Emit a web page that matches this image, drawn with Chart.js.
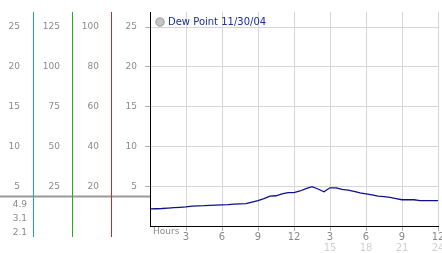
<!DOCTYPE html>
<html>
<head>
<meta charset="utf-8">
<script src="https://cdn.jsdelivr.net/npm/chart.js@4/dist/chart.umd.min.js"></script>
<style>
html,body{margin:0;padding:0;background:#fff;}
#c{display:block;}
</style>
</head>
<body>
<canvas id="c" width="442" height="253"></canvas>
<script>
// ---- data ----
const seriesLabel = 'Dew Point 11/30/04';
const hours = [0,0.5,1,1.5,2,2.5,3,3.5,4,4.5,5,5.5,6,6.5,7,7.5,8,8.5,9,9.5,10,10.5,11,11.5,12,12.5,13,13.5,14,14.5,15,15.5,16,16.5,17,17.5,18,18.5,19,19.5,20,20.5,21,21.5,22,22.5,23,23.5,24];
const dewPoint = [2.15,2.17,2.2,2.25,2.3,2.35,2.4,2.5,2.52,2.55,2.6,2.62,2.65,2.68,2.75,2.78,2.8,3.0,3.2,3.45,3.75,3.8,4.05,4.2,4.2,4.4,4.7,4.95,4.65,4.3,4.8,4.8,4.6,4.5,4.35,4.15,4.05,3.9,3.75,3.7,3.6,3.45,3.3,3.3,3.3,3.2,3.2,3.2,3.2];
const xTickValues = [3,6,9,12,15,18,21,24];
const xTickLabels = ['3','6','9','12','3','6','9','12'];
const x2TickValues = [15,18,21,24];
const x2TickLabels = ['15','18','21','24'];
const yTicksA = [5,10,15,20,25];
const yTicksB = [25,50,75,100,125];
const yTicksC = [20,40,60,80,100];
const yTicksD = [5,10,15,20,25];
const statLabels = ['4.9','3.1','2.1'];
const hoursLabel = 'Hours';

const FONT = "'DejaVu Sans', Verdana, sans-serif";
const GRAY = '#8a8a8a';

function setTicks(values){ return function(scale){ scale.ticks = values.map(v => ({value: v})); }; }
function fixW(w){ return function(scale){ scale.width = w; scale.paddingTop = 0; scale.paddingBottom = 0; }; }
function fixH(h){ return function(scale){ scale.height = h; scale.paddingLeft = 0; scale.paddingRight = 0; }; }
function labelFrom(values, labels){ return function(v){ const i = values.indexOf(v); return i < 0 ? '' : labels[i]; }; }

const decor = {
  id: 'decor',
  afterLayout(chart){
    const lg = chart.legend;
    if (lg) { lg.top += 13; lg.bottom += 13; lg.left += 3; lg.right += 3; }
  },
  afterDraw(chart){
    const ctx = chart.ctx;
    const ca = chart.chartArea;
    const sA = chart.scales.yA, sB = chart.scales.yB, sC = chart.scales.yC;
    ctx.save();
    // separator line in left panel
    const yS = chart.scales.y.getPixelForValue(3.7);
    ctx.strokeStyle = '#9a9a9a';
    ctx.lineWidth = 2;
    ctx.beginPath(); ctx.moveTo(0, yS); ctx.lineTo(ca.left, yS); ctx.stroke();
    // colored axis lines
    const cols = [[sA,'#1e9be6'],[sB,'#22aa22'],[sC,'#d02828']];
    ctx.lineWidth = 1;
    for (const [s,c] of cols){
      const x = Math.round(s.right) + 0.5;
      ctx.strokeStyle = c;
      ctx.beginPath(); ctx.moveTo(x, ca.top); ctx.lineTo(x, ca.bottom + 11); ctx.stroke();
    }
    // stats
    ctx.fillStyle = GRAY;
    ctx.font = '9px ' + FONT;
    ctx.textAlign = 'right';
    ctx.textBaseline = 'middle';
    statLabels.forEach((t,i) => ctx.fillText(t, 27, ca.bottom - 21 + i*14));
    // hours label
    ctx.textAlign = 'left';
    ctx.fillText(hoursLabel, ca.left + 3, ca.bottom + 6);
    ctx.restore();
  }
};

new Chart(document.getElementById('c'), {
  type: 'line',
  data: {
    datasets: [{
      label: seriesLabel,
      data: hours.map((h,i) => ({x: h, y: dewPoint[i]})),
      borderColor: '#10108a',
      backgroundColor: '#bdbdbd',
      borderWidth: 1.3,
      pointRadius: 0,
      tension: 0,
      yAxisID: 'y',
      xAxisID: 'x'
    }]
  },
  options: {
    responsive: false,
    devicePixelRatio: 1,
    animation: false,
    layout: { padding: { top: 12, right: 4, left: 0, bottom: 0 } },
    plugins: {
      legend: {
        position: 'chartArea',
        align: 'start',
        labels: {
          usePointStyle: true,
          boxWidth: 6,
          boxHeight: 6,
          padding: 4,
          color: '#1a2aa8',
          font: { family: FONT, size: 10 },
          generateLabels(chart){
            return Chart.defaults.plugins.legend.labels.generateLabels(chart).map(l => Object.assign(l, {fillStyle:'#c4c4c4', strokeStyle:'#9a9a9a', lineWidth:1, pointStyle:'circle'}));
          }
        }
      },
      tooltip: { enabled: false }
    },
    scales: {
      x: {
        type: 'linear', position: 'bottom', min: 0, max: 24,
        afterBuildTicks: setTicks(xTickValues),
        afterFit: fixH(16),
        grid: { color: '#d6d6d6', drawTicks: true, tickLength: 5, tickColor: '#b0b0b0' },
        border: { color: '#000', width: 1 },
        ticks: { callback: labelFrom(xTickValues, xTickLabels), color: GRAY, font: { family: FONT, size: 10 }, padding: 0, maxRotation: 0, autoSkip: false }
      },
      x2: {
        type: 'linear', position: 'bottom', min: 0, max: 24,
        afterBuildTicks: setTicks(x2TickValues),
        afterFit: fixH(11),
        grid: { display: false, drawTicks: false },
        border: { display: false },
        ticks: { callback: labelFrom(x2TickValues, x2TickLabels), color: '#d0d0d0', font: { family: FONT, size: 10 }, padding: 0, maxRotation: 0, autoSkip: false }
      },
      y: {
        position: 'left', weight: 1, min: 0, max: 26.9,
        afterBuildTicks: setTicks(yTicksD),
        afterFit: fixW(39),
        grid: { color: '#d6d6d6', drawTicks: true, tickLength: 5, tickColor: '#b0b0b0' },
        border: { color: '#000', width: 1 },
        ticks: { color: GRAY, font: { family: FONT, size: 9 }, padding: 8 }
      },
      yC: {
        position: 'left', weight: 2, min: 0, max: 107.6,
        afterBuildTicks: setTicks(yTicksC),
        afterFit: fixW(39),
        grid: { drawOnChartArea: false, drawTicks: false },
        border: { display: false },
        ticks: { color: GRAY, font: { family: FONT, size: 9 }, padding: 12 }
      },
      yB: {
        position: 'left', weight: 3, min: 0, max: 134.5,
        afterBuildTicks: setTicks(yTicksB),
        afterFit: fixW(39),
        grid: { drawOnChartArea: false, drawTicks: false },
        border: { display: false },
        ticks: { color: GRAY, font: { family: FONT, size: 9 }, padding: 12 }
      },
      yA: {
        position: 'left', weight: 4, min: 0, max: 26.9,
        afterBuildTicks: setTicks(yTicksA),
        afterFit: fixW(33),
        grid: { drawOnChartArea: false, drawTicks: false },
        border: { display: false },
        ticks: { color: GRAY, font: { family: FONT, size: 9 }, padding: 13 }
      }
    }
  },
  plugins: [decor]
});
</script>
</body>
</html>
